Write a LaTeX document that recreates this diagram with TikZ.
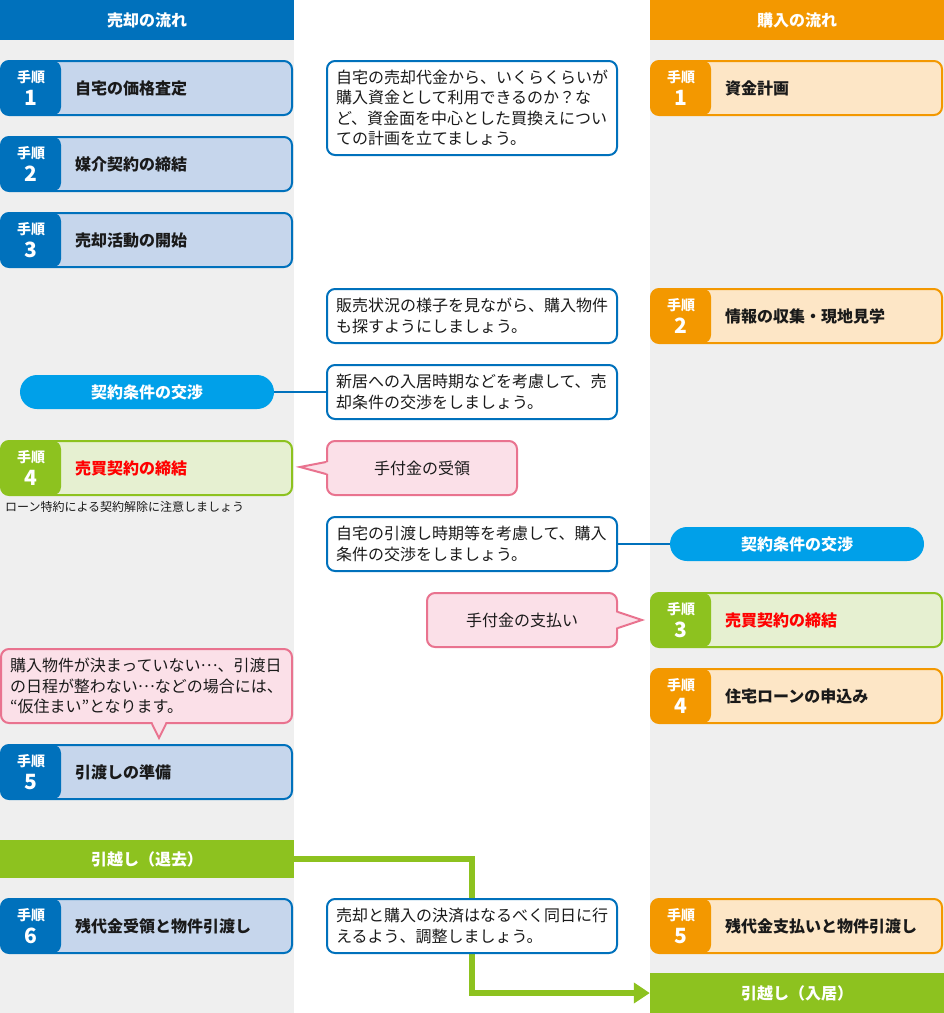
\documentclass[tikz,border=0pt]{standalone}
\usepackage{fontspec}
\setmainfont{Noto Sans CJK JP}
\usepackage{tikz}
\usetikzlibrary{arrows.meta,positioning,calc}
\usepackage{xcolor}
\definecolor{sellblue}{HTML}{0071BC}
\definecolor{lightblue}{HTML}{C6D6EC}
\definecolor{buyorange}{HTML}{F39800}
\definecolor{lightorange}{HTML}{FDE6C6}
\definecolor{leaf}{HTML}{8DC21F}
\definecolor{lightleaf}{HTML}{E6F0D1}
\definecolor{sky}{HTML}{00A0E9}
\definecolor{rose}{HTML}{E9738F}
\definecolor{lightrose}{HTML}{FBE0E8}
\definecolor{panel}{HTML}{EFEFEF}
\definecolor{ink}{HTML}{1A1A1A}
\definecolor{alert}{HTML}{FF0000}

\begin{document}
\begin{tikzpicture}[x=1pt, y=-1pt, text=ink, font=\fontsize{16}{20.5}\selectfont,
  header/.style={fill=#1, text=white, font=\fontsize{16}{20}\selectfont\bfseries, minimum width=294pt, minimum height=40pt, inner sep=0pt},
  stepbox/.style 2 args={draw=#1, fill=#2, line width=2pt, rounded corners=8pt, minimum width=291pt, minimum height=54pt, inner sep=0pt,
    path picture={\fill[#1] (path picture bounding box.north west) rectangle ([xshift=60pt]path picture bounding box.south west);}},
  badge/.style={text=white, align=center, font=\fontsize{14}{17}\selectfont\bfseries, inner sep=0pt},
  steptext/.style={anchor=west, font=\fontsize{16}{20}\selectfont\bfseries, inner sep=0pt},
  note/.style={draw=#1, fill=white, line width=2pt, rounded corners=8pt, minimum height=54pt, text width=272pt, align=left, inner xsep=9pt},
  callout/.style={draw=rose, fill=lightrose, line width=2pt, rounded corners=8pt, minimum height=54pt, minimum width=190pt, inner sep=0pt},
  pill/.style={fill=sky, text=white, font=\fontsize{16}{20}\selectfont\bfseries, rounded corners=17pt, minimum width=254pt, minimum height=34pt, inner sep=0pt},
  movebar/.style={fill=leaf, text=white, font=\fontsize{16}{20}\selectfont\bfseries, minimum width=294pt, inner sep=0pt},
  link/.style={draw=sellblue, line width=1.5pt},
  moveline/.style={draw=leaf, line width=6pt, -{Triangle[length=16pt,width=20pt]}}]
  \useasboundingbox (0,0) rectangle (944,1013);
  \fill[panel] (0,40) rectangle (294,1013);
  \fill[panel] (650,40) rectangle (944,1013);

  \node[header=sellblue] (sellhead) at (147,20) {売却の流れ};
  \node[header=buyorange] (buyhead) at (797,20) {購入の流れ};

  \node[stepbox={sellblue}{lightblue}] (sell1) at (146.5,88) {};
  \node[badge] (sell1n) at (31,88) {手順\\[5.5pt]{\fontsize{21}{21}\selectfont 1}};
  \node[steptext] (sell1t) at (75,88) {自宅の価格査定};
  \node[stepbox={sellblue}{lightblue}] (sell2) at (146.5,164) {};
  \node[badge] (sell2n) at (31,164) {手順\\[5.5pt]{\fontsize{21}{21}\selectfont 2}};
  \node[steptext] (sell2t) at (75,164) {媒介契約の締結};
  \node[stepbox={sellblue}{lightblue}] (sell3) at (146.5,240) {};
  \node[badge] (sell3n) at (31,240) {手順\\[5.5pt]{\fontsize{21}{21}\selectfont 3}};
  \node[steptext] (sell3t) at (75,240) {売却活動の開始};
  \node[stepbox={leaf}{lightleaf}] (sell4) at (146.5,468) {};
  \node[badge] (sell4n) at (31,468) {手順\\[5.5pt]{\fontsize{21}{21}\selectfont 4}};
  \node[steptext, text=alert] (sell4t) at (75,468) {売買契約の締結};
  \node[stepbox={sellblue}{lightblue}] (sell5) at (146.5,772) {};
  \node[badge] (sell5n) at (31,772) {手順\\[5.5pt]{\fontsize{21}{21}\selectfont 5}};
  \node[steptext] (sell5t) at (75,772) {引渡しの準備};
  \node[stepbox={sellblue}{lightblue}] (sell6) at (146.5,926) {};
  \node[badge] (sell6n) at (31,926) {手順\\[5.5pt]{\fontsize{21}{21}\selectfont 6}};
  \node[steptext] (sell6t) at (75,926) {残代金受領と物件引渡し};

  \node[stepbox={buyorange}{lightorange}] (buy1) at (796.5,88) {};
  \node[badge] (buy1n) at (681,88) {手順\\[5.5pt]{\fontsize{21}{21}\selectfont 1}};
  \node[steptext] (buy1t) at (725,88) {資金計画};
  \node[stepbox={buyorange}{lightorange}] (buy2) at (796.5,316) {};
  \node[badge] (buy2n) at (681,316) {手順\\[5.5pt]{\fontsize{21}{21}\selectfont 2}};
  \node[steptext] (buy2t) at (725,316) {情報の収集・現地見学};
  \node[stepbox={leaf}{lightleaf}] (buy3) at (796.5,620) {};
  \node[badge] (buy3n) at (681,620) {手順\\[5.5pt]{\fontsize{21}{21}\selectfont 3}};
  \node[steptext, text=alert] (buy3t) at (725,620) {売買契約の締結};
  \node[stepbox={buyorange}{lightorange}] (buy4) at (796.5,696) {};
  \node[badge] (buy4n) at (681,696) {手順\\[5.5pt]{\fontsize{21}{21}\selectfont 4}};
  \node[steptext] (buy4t) at (725,696) {住宅ローンの申込み};
  \node[stepbox={buyorange}{lightorange}] (buy5) at (796.5,926) {};
  \node[badge] (buy5n) at (681,926) {手順\\[5.5pt]{\fontsize{21}{21}\selectfont 5}};
  \node[steptext] (buy5t) at (725,926) {残代金支払いと物件引渡し};

  \node[note=sellblue, minimum height=94pt] (plan) at (472,108) {自宅の売却代金から、いくらくらいが\\購入資金として利用できるのか？な\\ど、資金面を中心とした買換えについ\\ての計画を立てましょう。};
  \node[note=sellblue] (search) at (472,316) {販売状況の様子を見ながら、購入物件\\も探すようにしましょう。};
  \node[note=sellblue] (sellterms) at (472,392) {新居への入居時期などを考慮して、売\\却条件の交渉をしましょう。};
  \node[note=sellblue] (buyterms) at (472,544) {自宅の引渡し時期等を考慮して、購入\\条件の交渉をしましょう。};

  \node[pill] (sellnego) at (147,392) {契約条件の交渉};
  \node[pill] (buynego) at (797,544) {契約条件の交渉};
  \draw[link] (sellnego.east) -- (sellterms.west);
  \draw[link] (buyterms.east) -- (buynego.west);

  \node[anchor=west, inner sep=0pt, font=\fontsize{12}{14}\selectfont] (loannote) at (5,507) {ローン特約による契約解除に注意しましょう};

  \node[callout] (receive) at (422,468) {手付金の受領};
  \coordinate (receivetip) at (300,467);
  \fill[lightrose] ([xshift=3pt,yshift=6pt]receive.west) -- (receivetip) -- ([xshift=3pt,yshift=-6pt]receive.west) -- cycle;
  \draw[rose, line width=2pt] ([yshift=6pt]receive.west) -- (receivetip) -- ([yshift=-6pt]receive.west);
  \node[callout] (pay) at (522,620) {手付金の支払い};
  \coordinate (paytip) at (642,620);
  \fill[lightrose] ([xshift=-3pt,yshift=8pt]pay.east) -- (paytip) -- ([xshift=-3pt,yshift=-8pt]pay.east) -- cycle;
  \draw[rose, line width=2pt] ([yshift=8pt]pay.east) -- (paytip) -- ([yshift=-8pt]pay.east);

  \node[callout, minimum width=291pt, minimum height=74pt, text width=273pt, align=left, inner xsep=9pt] (temp) at (146.5,686) {購入物件が決まっていない\raisebox{.3em}{…}、引渡日\\の日程が整わない\raisebox{.3em}{…}などの場合には、\\“仮住まい”となります。};
  \coordinate (temptip) at (159,738);
  \fill[lightrose] ([xshift=-7pt,yshift=3pt]temp.south -| temptip) -- (temptip) -- ([xshift=7pt,yshift=3pt]temp.south -| temptip) -- cycle;
  \draw[rose, line width=2pt] ([xshift=-7pt]temp.south -| temptip) -- (temptip) -- ([xshift=7pt]temp.south -| temptip);

  \node[movebar, minimum height=38pt] (moveout) at (147,859) {引越し（退去）};
  \node[movebar, minimum height=40pt] (movein) at (797,993) {引越し（入居）};
  \draw[moveline] (moveout.east) -| ($(moveout.east)!.5!(movein.west)$) |- (movein.west);

  \node[note=sellblue] (settle) at (472,926) {売却と購入の決済はなるべく同日に行\\えるよう、調整しましょう。};
\end{tikzpicture}
\end{document}
